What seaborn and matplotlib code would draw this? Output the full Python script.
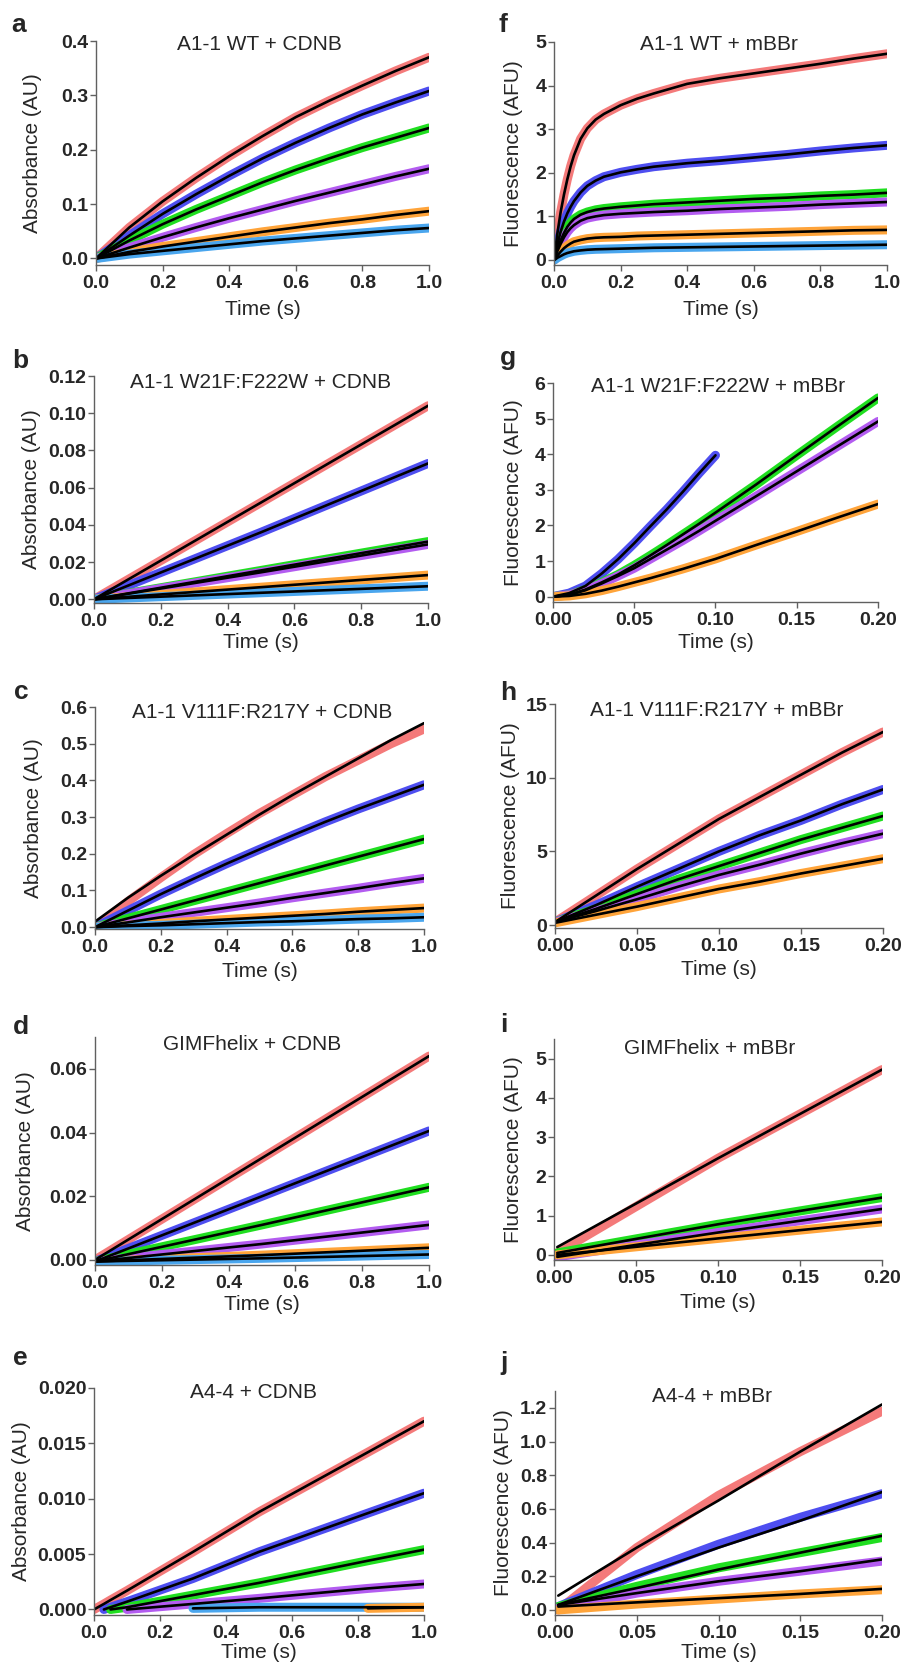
import numpy as np
import matplotlib
matplotlib.use('Agg')
import matplotlib.pyplot as plt
from matplotlib.ticker import FormatStrFormatter
import seaborn as sns

nan = np.nan

# trace colours
RED = '#F47A7A'
BLUE = '#4E4EF0'
GREEN = '#20DE20'
PURPLE = '#B35CF0'
ORANGE = '#FFA43A'
LBLUE = '#4AA6EE'

# ---- a: A1-1 WT + CDNB ----
a_t = [0.0, 0.1, 0.2, 0.3, 0.4, 0.5, 0.6, 0.7, 0.8, 0.9, 1.0]
a_red = [0.0, 0.057, 0.105, 0.148, 0.188, 0.225, 0.260, 0.290, 0.318, 0.345, 0.370]
a_blue = [0.0, 0.042, 0.082, 0.118, 0.152, 0.184, 0.213, 0.240, 0.265, 0.287, 0.308]
a_green = [0.0, 0.033, 0.063, 0.090, 0.115, 0.140, 0.163, 0.184, 0.204, 0.222, 0.240]
a_purple = [0.0, 0.020, 0.039, 0.057, 0.074, 0.090, 0.106, 0.121, 0.136, 0.151, 0.165]
a_orange = [0.0, 0.012, 0.022, 0.031, 0.040, 0.049, 0.057, 0.065, 0.072, 0.080, 0.087]
a_lblue = [0.0, 0.008, 0.014, 0.020, 0.026, 0.032, 0.037, 0.042, 0.047, 0.052, 0.056]

# ---- b: A1-1 W21F:F222W + CDNB ----
b_t = [0.0, 0.5, 1.0]
b_red = [0.0, 0.052, 0.104]
b_blue = [0.0, 0.036, 0.073]
b_green = [0.0, 0.0155, 0.031]
b_purple = [0.0, 0.0145, 0.0295]
b_orange = [0.0, 0.0065, 0.013]
b_lblue = [0.0, 0.0035, 0.007]

# ---- c: A1-1 V111F:R217Y + CDNB ----
c_t = [0.0, 0.1, 0.2, 0.3, 0.4, 0.5, 0.6, 0.7, 0.8, 0.9, 1.0]
c_red = [0.0, 0.070, 0.135, 0.198, 0.255, 0.310, 0.360, 0.410, 0.455, 0.500, 0.540]
c_red_fit = [0.015, 0.080, 0.140, 0.197, 0.252, 0.307, 0.360, 0.410, 0.460, 0.510, 0.556]
c_blue = [0.0, 0.045, 0.090, 0.132, 0.173, 0.212, 0.250, 0.287, 0.322, 0.355, 0.388]
c_green = [0.0, 0.024, 0.048, 0.072, 0.096, 0.120, 0.144, 0.168, 0.192, 0.216, 0.240]
c_purple = [0.0, 0.013, 0.027, 0.040, 0.053, 0.066, 0.080, 0.093, 0.106, 0.120, 0.133]
c_orange = [0.0, 0.005, 0.010, 0.016, 0.021, 0.026, 0.031, 0.036, 0.042, 0.047, 0.052]
c_lblue = [0.0, 0.003, 0.005, 0.008, 0.011, 0.014, 0.016, 0.019, 0.022, 0.024, 0.027]

# ---- d: GIMFhelix + CDNB ----
d_t = [0.0, 0.5, 1.0]
d_red = [0.0, 0.032, 0.064]
d_blue = [-0.0005, 0.020, 0.0405]
d_green = [-0.0005, 0.011, 0.0228]
d_purple = [-0.0005, 0.005, 0.011]
d_orange = [-0.0005, 0.0015, 0.0038]
d_lblue = [-0.0005, 0.0005, 0.0017]

# ---- e: A4-4 + CDNB ----
e_t = [0.0, 0.03, 0.05, 0.10, 0.30, 0.50, 0.83, 1.00]
e_red = [0.0, 0.0005, 0.00085, 0.0017, 0.0052, 0.0088, 0.0142, 0.0170]
e_blue = [nan, 0.0, 0.0002, 0.0007, 0.0028, 0.0052, 0.0087, 0.0105]
e_green = [nan, nan, 0.0, 0.0002, 0.0013, 0.0024, 0.0044, 0.0054]
e_purple = [nan, nan, nan, 0.0, 0.0005, 0.0010, 0.0019, 0.0023]
e_orange = [nan, nan, nan, nan, nan, nan, 0.0001, 0.0002]
e_lblue = [nan, nan, nan, nan, 0.0001, 0.0002, 0.0002, 0.0002]

# ---- f: A1-1 WT + mBBr ----
f_t = [0.0, 0.005, 0.01, 0.02, 0.03, 0.04, 0.05, 0.06, 0.08, 0.1, 0.125, 0.15,
       0.2, 0.25, 0.3, 0.4, 0.5, 0.6, 0.7, 0.8, 0.9, 1.0]
f_red = [0.0, 0.3, 0.6, 1.1, 1.5, 1.85, 2.15, 2.4, 2.78, 3.02, 3.22, 3.35,
         3.55, 3.7, 3.82, 4.04, 4.17, 4.28, 4.39, 4.5, 4.62, 4.73]
f_blue = [0.0, 0.18, 0.35, 0.65, 0.88, 1.07, 1.22, 1.35, 1.55, 1.7, 1.82, 1.91,
          2.01, 2.08, 2.14, 2.22, 2.28, 2.35, 2.42, 2.5, 2.57, 2.63]
f_green = [0.0, 0.12, 0.25, 0.45, 0.62, 0.76, 0.86, 0.94, 1.04, 1.1, 1.15, 1.18,
           1.22, 1.25, 1.28, 1.32, 1.36, 1.4, 1.43, 1.47, 1.5, 1.54]
f_purple = [0.0, 0.1, 0.2, 0.37, 0.52, 0.64, 0.73, 0.8, 0.9, 0.96, 1.0, 1.03,
            1.06, 1.08, 1.1, 1.13, 1.17, 1.2, 1.23, 1.27, 1.3, 1.33]
f_orange = [0.0, 0.05, 0.1, 0.19, 0.27, 0.33, 0.38, 0.42, 0.46, 0.49, 0.51, 0.52,
            0.53, 0.55, 0.56, 0.58, 0.6, 0.62, 0.64, 0.66, 0.68, 0.69]
f_lblue = [0.0, 0.02, 0.05, 0.09, 0.13, 0.16, 0.18, 0.2, 0.22, 0.235, 0.245, 0.25,
           0.26, 0.27, 0.28, 0.29, 0.3, 0.31, 0.32, 0.33, 0.34, 0.35]

# ---- g: A1-1 W21F:F222W + mBBr ----
g_t = [0.0, 0.01, 0.02, 0.03, 0.04, 0.05, 0.06, 0.07, 0.08, 0.09, 0.10, 0.125, 0.15, 0.175, 0.2]
g_blue = [0.0, 0.1, 0.3, 0.65, 1.05, 1.5, 1.98, 2.45, 2.95, 3.47, 3.97, nan, nan, nan, nan]
g_green = [0.0, 0.05, 0.2, 0.4, 0.62, 0.88, 1.16, 1.45, 1.75, 2.05, 2.36, 3.15, 3.97, 4.78, 5.58]
g_purple = [0.0, 0.05, 0.18, 0.37, 0.58, 0.8, 1.06, 1.32, 1.58, 1.85, 2.13, 2.82, 3.52, 4.22, 4.92]
g_orange = [0.0, 0.02, 0.08, 0.17, 0.28, 0.4, 0.52, 0.65, 0.78, 0.92, 1.06, 1.45, 1.83, 2.22, 2.6]

# ---- h: A1-1 V111F:R217Y + mBBr ----
h_t = [0.0, 0.025, 0.05, 0.075, 0.1, 0.125, 0.15, 0.175, 0.2]
h_red = [0.2, 2.0, 3.8, 5.5, 7.2, 8.7, 10.2, 11.7, 13.1]
h_blue = [0.2, 1.35, 2.6, 3.8, 5.0, 6.1, 7.1, 8.2, 9.2]
h_green = [0.2, 1.1, 2.1, 3.1, 4.0, 4.9, 5.8, 6.6, 7.4]
h_purple = [0.2, 0.95, 1.75, 2.6, 3.4, 4.1, 4.85, 5.55, 6.2]
h_orange = [0.15, 0.7, 1.25, 1.85, 2.45, 2.95, 3.5, 4.0, 4.5]

# ---- i: GIMFhelix + mBBr ----
i_t = [0.002, 0.1, 0.2]
i_red = [0.05, 2.46, 4.72]
i_red_fit = [0.2, 2.46, 4.72]
i_green = [0.05, 0.78, 1.46]
i_purple = [-0.05, 0.57, 1.17]
i_orange = [0.0, 0.42, 0.84]

# ---- j: A4-4 + mBBr ----
j_t = [0.002, 0.05, 0.1, 0.15, 0.2]
j_red = [0.0, 0.37, 0.68, 0.94, 1.18]
j_red_fit = [0.085, 0.37, 0.65, 0.94, 1.22]
j_blue = [0.02, 0.21, 0.39, 0.55, 0.69]
j_blue_fit = [0.03, 0.20, 0.37, 0.53, 0.70]
j_green = [0.02, 0.14, 0.25, 0.34, 0.43]
j_green_fit = [0.03, 0.13, 0.24, 0.34, 0.44]
j_purple = [0.01, 0.10, 0.17, 0.23, 0.29]
j_purple_fit = [0.03, 0.10, 0.17, 0.23, 0.30]
j_orange = [0.0, 0.035, 0.065, 0.095, 0.12]
j_orange_fit = [0.02, 0.045, 0.07, 0.095, 0.125]

six = [RED, BLUE, GREEN, PURPLE, ORANGE, LBLUE]

sns.set_style('ticks')
plt.rcParams['font.family'] = ['Liberation Sans', 'DejaVu Sans']

W, H = 903, 1664
fig = plt.figure(figsize=(W / 100, H / 100), dpi=100)

# letter, title, t, data, fits, colours, xmax, xstep, xfmt, ylim, ystep, yfmt, ylabel,
# box (left, right, top, bottom px), title xy, letter xy, ylabel centre x px, xlabel centre dy px
panels = [
    ('a', 'A1-1 WT + CDNB', a_t,
     [a_red, a_blue, a_green, a_purple, a_orange, a_lblue], None, six,
     1.0, 0.2, '%.1f', (-0.012, 0.4), 0.1, '%.1f', 'Absorbance (AU)',
     (96, 429, 41, 265), (259, 45), (19, 25), 32, 45),
    ('b', 'A1-1 W21F:F222W + CDNB', b_t,
     [b_red, b_blue, b_green, b_purple, b_orange, b_lblue], None, six,
     1.0, 0.2, '%.1f', (-0.002, 0.12), 0.02, '%.2f', 'Absorbance (AU)',
     (94, 428, 376, 603), (261, 382), (20, 361), 31, 40),
    ('c', 'A1-1 V111F:R217Y + CDNB', c_t,
     [c_red, c_blue, c_green, c_purple, c_orange, c_lblue],
     [c_red_fit, c_blue, c_green, c_purple, c_orange, c_lblue], six,
     1.0, 0.2, '%.1f', (-0.005, 0.6), 0.1, '%.1f', 'Absorbance (AU)',
     (95, 424, 707, 929), (262, 712), (21, 692), 33, 43),
    ('d', 'GIMFhelix + CDNB', d_t,
     [d_red, d_blue, d_green, d_purple, d_orange, d_lblue], None, six,
     1.0, 0.2, '%.1f', (-0.0016, 0.07), 0.02, '%.2f', 'Absorbance (AU)',
     (95, 429, 1037, 1265), (252, 1045), (21, 1027), 25, 40),
    ('e', 'A4-4 + CDNB', e_t,
     [e_red, e_blue, e_green, e_purple, e_lblue, e_orange], None,
     [RED, BLUE, GREEN, PURPLE, LBLUE, ORANGE],
     1.0, 0.2, '%.1f', (-0.0005, 0.02), 0.005, '%.3f', 'Absorbance (AU)',
     (94, 424, 1388, 1615), (254, 1392), (20, 1358), 21, 38),
    ('f', 'A1-1 WT + mBBr', f_t,
     [f_red, f_blue, f_green, f_purple, f_orange, f_lblue], None, six,
     1.0, 0.2, '%.1f', (-0.115, 5.0), 1, '%d', 'Fluorescence (AFU)',
     (554, 887, 42, 265), (719, 45), (503, 25), 513, 45),
    ('g', 'A1-1 W21F:F222W + mBBr', g_t,
     [g_blue, g_green, g_purple, g_orange], None, [BLUE, GREEN, PURPLE, ORANGE],
     0.2, 0.05, '%.2f', (-0.15, 6.0), 1, '%d', 'Fluorescence (AFU)',
     (553, 878, 383, 602), (718, 387), (508, 358), 513, 41),
    ('h', 'A1-1 V111F:R217Y + mBBr', h_t,
     [h_red, h_blue, h_green, h_purple, h_orange], None, six[:5],
     0.2, 0.05, '%.2f', (-0.2, 15.0), 5, '%d', 'Fluorescence (AFU)',
     (555, 883, 704, 928), (717, 710), (508, 693), 510, 42),
    ('i', 'GIMFhelix + mBBr', i_t,
     [i_red, i_green, i_purple, i_orange],
     [i_red_fit, i_green, i_purple, i_orange], [RED, GREEN, PURPLE, ORANGE],
     0.2, 0.05, '%.2f', (-0.13, 5.5), 1, '%d', 'Fluorescence (AFU)',
     (554, 882, 1039, 1260), (710, 1048), (504, 1025), 513, 43),
    ('j', 'A4-4 + mBBr', j_t,
     [j_red, j_blue, j_green, j_purple, j_orange],
     [j_red_fit, j_blue_fit, j_green_fit, j_purple_fit, j_orange_fit], six[:5],
     0.2, 0.05, '%.2f', (-0.03, 1.3), 0.2, '%.1f', 'Fluorescence (AFU)',
     (555, 882, 1391, 1615), (712, 1397), (504, 1363), 503, 38),
]

for (letter, title, t, data, fits, cols, xmax, xstep, xfmt, ylim, ystep, yfmt,
     ylabel, box, tpos, lpos, ylx, xldy) in panels:
    l, r, top, bot = box
    ax = fig.add_axes([l / W, 1 - bot / H, (r - l) / W, (bot - top) / H])
    for y, c in zip(data, cols):
        sns.lineplot(x=t, y=y, ax=ax, color=c, linewidth=6.5,
                     solid_capstyle='round', solid_joinstyle='round',
                     sort=False, estimator=None)
    for y in (fits if fits is not None else data):
        sns.lineplot(x=t, y=y, ax=ax, color='black', linewidth=1.9,
                     solid_capstyle='round', solid_joinstyle='round',
                     sort=False, estimator=None)
    ax.set_xlim(0, xmax)
    ax.set_ylim(*ylim)
    ax.set_xticks(np.arange(0, xmax + xstep / 2, xstep))
    ax.set_yticks(np.arange(0, ylim[1] + ystep / 2, ystep))
    ax.xaxis.set_major_formatter(FormatStrFormatter(xfmt))
    ax.yaxis.set_major_formatter(FormatStrFormatter(yfmt))
    for s in ['top', 'right']:
        ax.spines[s].set_visible(False)
    for s in ['left', 'bottom']:
        ax.spines[s].set_color('#606060')
        ax.spines[s].set_linewidth(1.0)
    ax.tick_params(axis='both', length=4, width=1.0, color='#606060',
                   labelsize=14)
    ax.tick_params(axis='y', pad=1.5)
    ax.tick_params(axis='x', pad=3)
    for lab in ax.get_xticklabels() + ax.get_yticklabels():
        lab.set_fontweight('bold')
    ax.set_xlabel('Time (s)', fontsize=15)
    ax.set_ylabel(ylabel, fontsize=15)
    # label anchors sit on the label edge nearest the axes, so shift by half a line
    ax.xaxis.set_label_coords(0.5, -(xldy - 10) / (bot - top))
    ax.yaxis.set_label_coords((ylx + 10 - l) / (r - l), 0.5)
    ax.patch.set_alpha(0)
    fig.text(tpos[0] / W, 1 - tpos[1] / H, title, fontsize=15,
             ha='center', va='center')
    fig.text(lpos[0] / W, 1 - lpos[1] / H, letter, fontsize=19,
             fontweight='bold', ha='center', va='center')

fig.savefig('out.png', dpi=100)
